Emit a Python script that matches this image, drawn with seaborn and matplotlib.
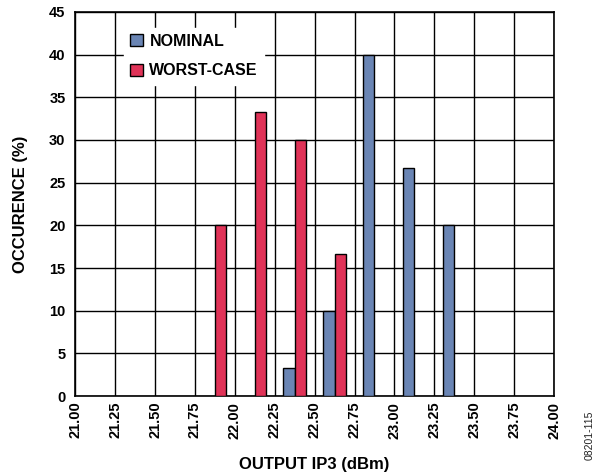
import numpy as np
import pandas as pd
import matplotlib
matplotlib.use('Agg')
import matplotlib.pyplot as plt
import seaborn as sns

# bin centres (dBm) and occurrence (%) per bin
bins = [21.875, 22.125, 22.375, 22.625, 22.875, 23.125, 23.375]
nominal = [0, 0, 3.3, 10, 40, 26.7, 20]
worst_case = [20, 33.3, 30, 16.7, 0, 0, 0]
series = ['NOMINAL', 'WORST-CASE']
colors = ['#6a85b4', '#e03358']
x_ticks = np.arange(21.0, 24.01, 0.25)
y_ticks = list(range(0, 46, 5))

rows = []
for name, vals in zip(series, [nominal, worst_case]):
    for b, v in zip(bins, vals):
        if v > 0:
            rows.append({'ip3': b, 'occ': v, 'series': name})
df = pd.DataFrame(rows)

sns.set_style('white')
plt.rcParams['font.family'] = ['Liberation Sans', 'DejaVu Sans']
plt.rcParams['font.weight'] = 'bold'
plt.rcParams['text.color'] = 'black'
plt.rcParams['axes.labelcolor'] = 'black'
plt.rcParams['xtick.color'] = 'black'
plt.rcParams['ytick.color'] = 'black'

fig = plt.figure(figsize=(5.97, 4.75), dpi=100)
ax = fig.add_axes([0.126, 0.166, 0.802, 0.809])

sns.barplot(data=df, x='ip3', y='occ', hue='series', hue_order=series,
            palette=colors, saturation=1, native_scale=True, width=0.56,
            dodge=True, edgecolor='black', linewidth=1, errorbar=None,
            ax=ax, zorder=3)

ax.set_xlim(21.0, 24.0)
ax.set_ylim(0, 45)
ax.set_xticks(x_ticks)
ax.set_xticklabels([f'{t:.2f}' for t in x_ticks], rotation=90, fontsize=10.5, fontweight='bold')
ax.set_yticks(y_ticks)
ax.set_yticklabels([str(t) for t in y_ticks], fontsize=10.5, fontweight='bold')
ax.tick_params(axis='x', length=0, pad=4)
ax.tick_params(axis='y', length=0, pad=7)
ax.grid(True, color='black', linewidth=1)
ax.set_axisbelow(True)
for s in ax.spines.values():
    s.set_color('black')
    s.set_linewidth(1.2)

ax.set_xlabel('OUTPUT IP3 (dBm)', fontsize=12, fontweight='bold', labelpad=13)
ax.set_ylabel('OCCURENCE (%)', fontsize=12, fontweight='bold', labelpad=15)

leg = ax.legend(loc='upper left', bbox_to_anchor=(0.085, 0.98), frameon=True,
                fancybox=False, edgecolor='white', framealpha=1,
                prop={'weight': 'bold', 'size': 11.5}, handlelength=0.8,
                handleheight=0.8, handletextpad=0.4, labelspacing=0.9,
                borderpad=0.4)
leg.set_zorder(5)

fig.text(0.988, 0.084, '08201-115', rotation=90, fontsize=7.5, color='#222222',
         ha='center', va='center', fontweight='normal')

fig.savefig('out.png', dpi=100)
